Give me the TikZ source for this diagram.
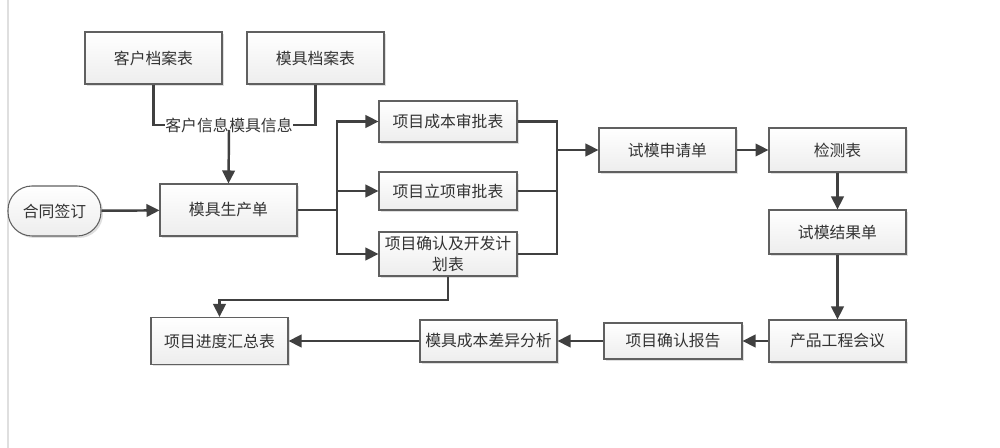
\documentclass[tikz,border=0pt]{standalone}
\usepackage{fontspec}
\newfontfamily\cjk{Noto Sans CJK SC}
\usetikzlibrary{arrows.meta,shadows}
\definecolor{linea}{HTML}{404040}
\definecolor{testo}{HTML}{333333}
\tikzset{
  scheda/.style={draw=gray!75!black, line width=0.6pt, top color=white, bottom color=gray!14,
    drop shadow={shadow xshift=0.04cm, shadow yshift=-0.04cm, opacity=0.25},
    minimum width=2.74cm, minimum height=0.88cm, inner sep=1pt, align=center,
    text=testo, font=\cjk\fontsize{9}{11.5}\selectfont},
  inizio/.style={scheda, rounded corners=0.48cm, minimum width=1.86cm, minimum height=1cm},
  freccia/.style={draw=linea, line width=1.4pt, -{Triangle[length=0.26cm, width=0.25cm]}},
  tratto/.style={draw=linea, line width=1.4pt},
  etichetta/.style={fill=white, inner sep=0pt, text=testo, font=\cjk\fontsize{9}{11}\selectfont}
}
\begin{document}
\begin{tikzpicture}[x=0.02cm, y=-0.02cm]
        % Disegna il foglio
        \useasboundingbox[fill=white] (0,0) rectangle (1000,448);
        \draw[gray!25, line width=1pt] (8,0) -- (8,448);

        % Disegna le schede in alto
        \node[scheda, minimum height=1.04cm] (kehu) at (153.5,58) {客户档案表};
        \node[scheda, minimum height=1.04cm] (moju) at (315.5,58) {模具档案表};
        \node[inizio] (hetong) at (54.5,211) {合同签订};
        \node[scheda, minimum height=1.04cm] (shengchan) at (228.5,210) {模具生产单};

        % Disegna le tre tabelle di progetto
        \node[scheda, minimum width=2.76cm, minimum height=0.82cm] (chengben) at (448,121.5) {项目成本审批表};
        \node[scheda, minimum width=2.76cm, minimum height=0.76cm] (lixiang) at (448,191) {项目立项审批表};
        \node[scheda, minimum width=2.76cm] (queren) at (448,254) {项目确认及开发计\\划表};

        % Disegna la catena a destra
        \node[scheda] (shenqing) at (667.5,150) {试模申请单};
        \node[scheda] (jiance) at (837.5,150) {检测表};
        \node[scheda] (jieguo) at (837.5,232) {试模结果单};
        \node[scheda, minimum height=0.84cm] (huiyi) at (837.5,341) {产品工程会议};
        \node[scheda, minimum width=2.76cm, minimum height=0.72cm] (baogao) at (673,341) {项目确认报告};
        \node[scheda, minimum height=0.84cm] (chayi) at (488.5,341) {模具成本差异分析};
        \node[scheda, minimum height=0.94cm] (huizong) at (219.5,341) {项目进度汇总表};

        % Punti di giunzione
        \coordinate (unione) at (229,125);
        \coordinate (ramo) at (337,210);
        \coordinate (raccolta) at (557,150);
        \coordinate (gomito) at (219.5,300);

        % Disegna i collegamenti
        \draw[tratto] (kehu.south) |- (unione);
        \draw[tratto] (moju.south) |- (unione);
        \node[etichetta, anchor=east] (infokehu) at (unione) {客户信息};
        \node[etichetta, anchor=west] (infomoju) at (unione) {模具信息};
        \draw[freccia] (unione) ++(0,5) -- (shengchan.north);
        \draw[freccia] (hetong) -- (shengchan);

        \draw[tratto] (shengchan.east) -- (ramo);
        \draw[freccia] (ramo) |- (chengben.west);
        \draw[freccia] (ramo) |- (lixiang.west);
        \draw[freccia] (ramo) |- (queren.west);

        \draw[tratto] (chengben.east) -| (raccolta);
        \draw[tratto] (queren.east) -| (raccolta);
        \draw[tratto] (lixiang.east) -- (lixiang.east -| raccolta);
        \draw[freccia] (raccolta) -- (shenqing);

        \draw[freccia] (shenqing) -- (jiance);
        \draw[freccia] (jiance) -- (jieguo);
        \draw[freccia] (jieguo) -- (huiyi);
        \draw[freccia] (huiyi) -- (baogao);
        \draw[freccia] (baogao) -- (chayi);
        \draw[freccia] (chayi) -- (huizong);
        \draw[freccia] (queren.south) |- (gomito) -- (huizong.north);
\end{tikzpicture}
\end{document}
